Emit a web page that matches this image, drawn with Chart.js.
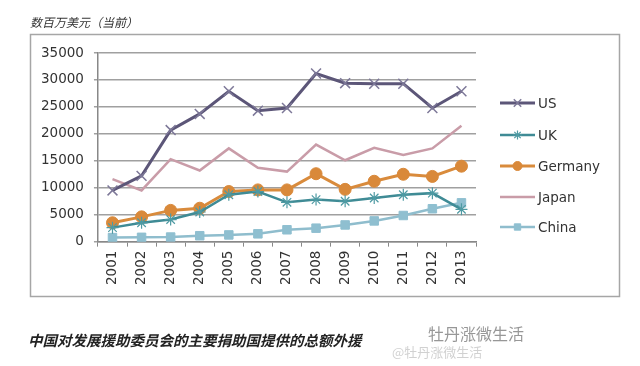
<!DOCTYPE html>
<html><head><meta charset="utf-8">
<script src="https://cdn.jsdelivr.net/npm/chart.js@4/dist/chart.umd.min.js"></script>
<style>html,body{margin:0;padding:0;background:#fff;}#wrap{position:relative;width:640px;height:366px;}</style>
</head><body><div id="wrap"><canvas id="c" width="640" height="366"></canvas></div>
<script>
const years = ["2001","2002","2003","2004","2005","2006","2007","2008","2009","2010","2011","2012","2013"];
const us      = [9500,12200,20700,23700,27900,24300,24800,31200,29400,29300,29300,24800,27900];
const uk      = [2600,3500,4100,5500,8700,9300,7300,7800,7500,8100,8700,9000,6000];
const germany = [3500,4600,5800,6200,9300,9600,9600,12600,9700,11200,12500,12100,14000];
const japan   = [11600,9500,15300,13200,17300,13700,13000,18000,15100,17400,16100,17300,21500];
const china   = [750,800,850,1100,1250,1450,2200,2500,3100,3850,4850,6100,7200];
const yTicks  = [0,5000,10000,15000,20000,25000,30000,35000];
const yTitle  = "数百万美元（当前）";
const caption = "中国对发展援助委员会的主要捐助国提供的总额外援";
const watermark = "牡丹涨微生活";

const FONT = "'DejaVu Sans', sans-serif";

const decor = {
  id: 'decor',
  beforeDraw(chart) {
    const ctx = chart.ctx;
    ctx.save();
    ctx.fillStyle = '#fff';
    ctx.fillRect(0,0,chart.width,chart.height);
    ctx.strokeStyle = '#a6a6a6';
    ctx.lineWidth = 1.5;
    ctx.strokeRect(30.5, 34.5, 589, 262);
    ctx.restore();
  },
  afterDraw(chart) {
    const ctx = chart.ctx;
    ctx.save();
    ctx.fillStyle = '#333';
    ctx.font = "italic 12px 'Noto Sans CJK SC'";
    ctx.textBaseline = 'middle';
    ctx.fillText(yTitle, 30, 22);
    ctx.font = "italic bold 14.5px 'Noto Sans CJK SC'";
    ctx.fillStyle = '#222';
    ctx.fillText(caption, 28, 340);
    ctx.font = "16px 'Noto Sans CJK SC'";
    ctx.fillStyle = 'rgba(140,140,140,0.9)';
    ctx.fillText(watermark, 428, 334);
    ctx.font = "13px 'Noto Sans CJK SC'";
    ctx.fillStyle = 'rgba(190,190,190,0.7)';
    ctx.fillText("@牡丹涨微生活", 392, 352);
    // legend
    const ds = chart.data.datasets;
    const x0 = 500, x1 = 535, ys = [103,135,166,197,227];
    ctx.font = "13.5px " + FONT;
    ds.forEach((d, i) => {
      const y = ys[i];
      ctx.strokeStyle = d.borderColor;
      ctx.lineWidth = d.borderWidth;
      ctx.beginPath(); ctx.moveTo(x0, y); ctx.lineTo(x1, y); ctx.stroke();
      if (d.pointStyle && d.pointRadius > 0) {
        ctx.fillStyle = d.pointBackgroundColor;
        ctx.strokeStyle = d.pointBorderColor;
        ctx.lineWidth = d.pointBorderWidth || 1;
        Chart.helpers.drawPoint(ctx, {pointStyle: d.pointStyle, radius: d.pointRadius * 0.75, borderWidth: d.pointBorderWidth||1, rotation:0}, (x0+x1)/2, y);
      }
      ctx.fillStyle = '#333';
      ctx.textBaseline = 'middle';
      ctx.fillText(d.label, 538, y + 1);
    });
    ctx.restore();
  }
};

new Chart(document.getElementById('c'), {
  type: 'line',
  data: {
    labels: years,
    datasets: [
      {label:'US', data: us, borderColor:'#5c5678', borderWidth:3, pointStyle:'crossRot', pointRadius:7, pointBorderColor:'#7d7898', pointBackgroundColor:'#7d7898', pointBorderWidth:1.5, tension:0},
      {label:'UK', data: uk, borderColor:'#3f8b95', borderWidth:2.5, pointStyle:'star', pointRadius:6, pointBorderColor:'#4e9aa3', pointBackgroundColor:'#4e9aa3', pointBorderWidth:1.2, tension:0},
      {label:'Germany', data: germany, borderColor:'#d98b3c', borderWidth:3, pointStyle:'circle', pointRadius:6, pointBorderColor:'#d9893a', pointBackgroundColor:'#d9893a', pointBorderWidth:1, tension:0},
      {label:'Japan', data: japan, borderColor:'#c99ca8', borderWidth:2.5, pointStyle:false, pointRadius:0, tension:0},
      {label:'China', data: china, borderColor:'#8fbdcd', borderWidth:2.5, pointStyle:'rect', pointRadius:6, pointBorderColor:'#8fbfd0', pointBackgroundColor:'#8fbfd0', pointBorderWidth:1, tension:0}
    ]
  },
  options: {
    responsive: false,
    animation: false,
    devicePixelRatio: 1,
    layout: { padding: { left: 31, right: 164, top: 53, bottom: 77 } },
    plugins: { legend: { display:false }, tooltip: { enabled:false } },
    scales: {
      x: {
        offset: true,
        grid: { offset: true, drawOnChartArea: false, drawTicks: true, tickLength: 5, color:'#888', lineWidth:1 },
        border: { color:'#888', width:1.5 },
        ticks: { color:'#333', font:{ family: FONT, size: 13.5 }, minRotation:90, maxRotation:90, padding: 4 }
      },
      y: {
        min: 0, max: 35000,
        afterBuildTicks(axis) { axis.ticks = yTicks.map(v => ({value: v})); },
        grid: { color:'#a0a0a0', lineWidth:1.5, tickLength: 4 },
        border: { color:'#888', width:1.5 },
        ticks: { color:'#333', font:{ family: FONT, size: 13.5 }, padding: 10, callback: v => String(v) }
      }
    }
  },
  plugins: [decor]
});
</script></body></html>
